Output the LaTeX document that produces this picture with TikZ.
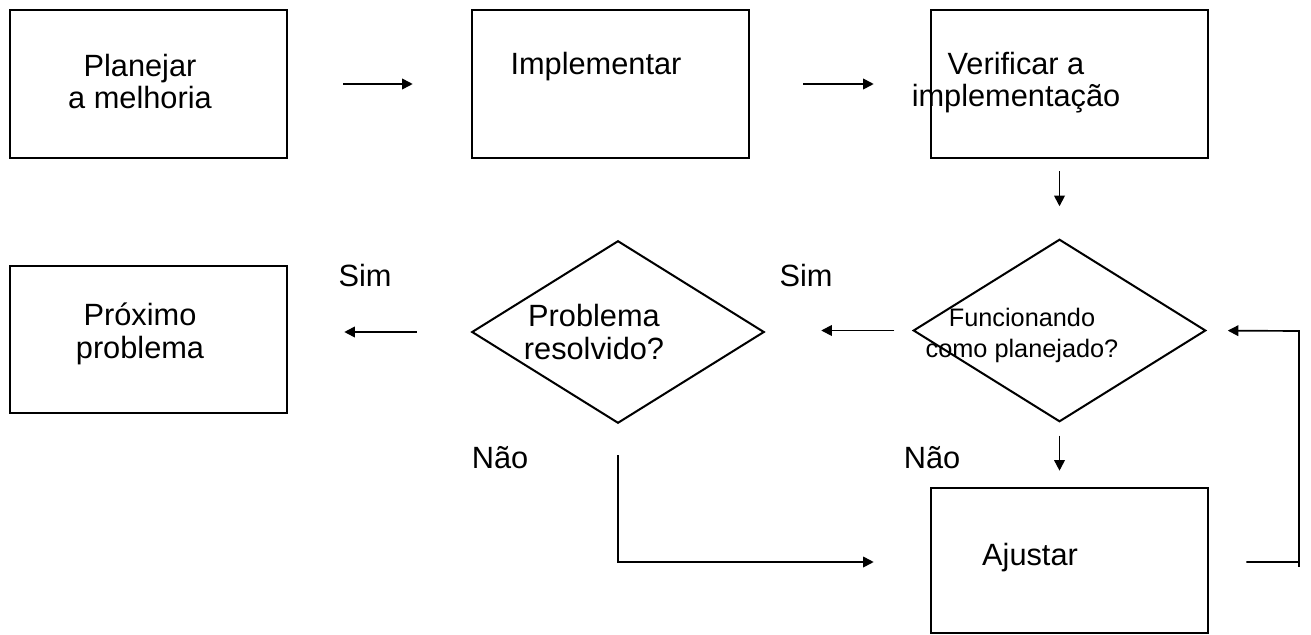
\documentclass[tikz,border=0pt]{standalone}
\usepackage{fontspec}
\setmainfont{Liberation Sans}
\usetikzlibrary{arrows.meta}
\usetikzlibrary{shapes.geometric}
\tikzset{stepBox/.style={draw, line width=1.5pt, inner sep=0pt, minimum width=5.54cm, minimum height=2.96cm}}
\tikzset{choice/.style={draw, diamond, line width=1.15pt, inner sep=0pt, minimum width=5.85cm, minimum height=3.65cm}}
\tikzset{txt/.style={align=center, inner sep=0pt, anchor=base, font=\fontsize{17.5pt}{18.5pt}\selectfont}}
\tikzset{smalltxt/.style={txt, font=\fontsize{14.4pt}{17.6pt}\selectfont}}
\tikzset{arr/.style={-{Triangle[length=6pt,width=6pt]}, line width=0.95pt}}

\begin{document}
\begin{tikzpicture}[x=0.02cm, y=-0.02cm]
\useasboundingbox (0,0) rectangle (1311,635);

% boxes and decisions
\node[stepBox] at (148.5,84) (plan) {};
\node[stepBox] at (610.5,84) (impl) {};
\node[stepBox] at (1069.5,84) (verif) {};
\node[stepBox, minimum height=2.94cm] at (148.5,339.5) (prox) {};
\node[stepBox, minimum height=2.9cm] at (1069.5,560.5) (ajust) {};
\node[choice] at (618,332) (prob) {};
\node[choice] at (1059.5,330.5) (func) {};

% texts
\node[txt] at (140,109) (planT) {Planejar\\ a melhoria};
\node[txt] at (596,75) (implT) {Implementar};
\node[txt] at (1016,107) (verifT) {Verificar a\\ implementação};
\node[txt] at (140,358) (proxT) {Próximo\\ problema};
\node[txt] at (594,359) (probT) {Problema\\ resolvido?};
\node[smalltxt] at (1022,357) (funcT) {Funcionando\\ como planejado?};
\node[txt] at (1030,565) (ajustT) {Ajustar};
\node[txt] at (365,286) (simA) {Sim};
\node[txt] at (806,286) (simB) {Sim};
\node[txt] at (500,468) (naoA) {Não};
\node[txt] at (932,468) (naoB) {Não};

% connectors
\draw[arr, shorten <=1.1cm, shorten >=1.16cm] (plan.east) -- (impl.west);
\draw[arr, shorten <=1.06cm, shorten >=1.12cm] (impl.east) -- (verif.west);
\draw[arr, shorten <=0.24cm, shorten >=0.64cm] (verif.south -| func.north) -- (func.north);
\draw[arr, shorten <=0.36cm, shorten >=1.12cm] (func.west) -- (func.west -| prob.east);
\draw[arr, shorten <=1.08cm, shorten >=1.12cm] (prob.west) -- (prob.west -| prox.east);
\draw[arr, shorten <=0.26cm, shorten >=0.32cm] (func.south) -- (func.south |- ajust.north);

\coordinate (naoBend) at (618,562);
\draw[arr, shorten <=0.62cm, shorten >=1.12cm] (prob.south) -- (naoBend) -- (ajust.west |- naoBend);

\coordinate (loopLow) at (1299,562);
\coordinate (loopHigh) at (1299,331);
\coordinate (loopEnd) at (1299,567);
\draw[arr, shorten <=0.74cm, shorten >=0.42cm] (ajust.east |- loopLow) -- (loopLow) -- (loopHigh) -- (func.east);
\draw[line width=0.95pt] (loopLow) -- (loopEnd);
\end{tikzpicture}
\end{document}
